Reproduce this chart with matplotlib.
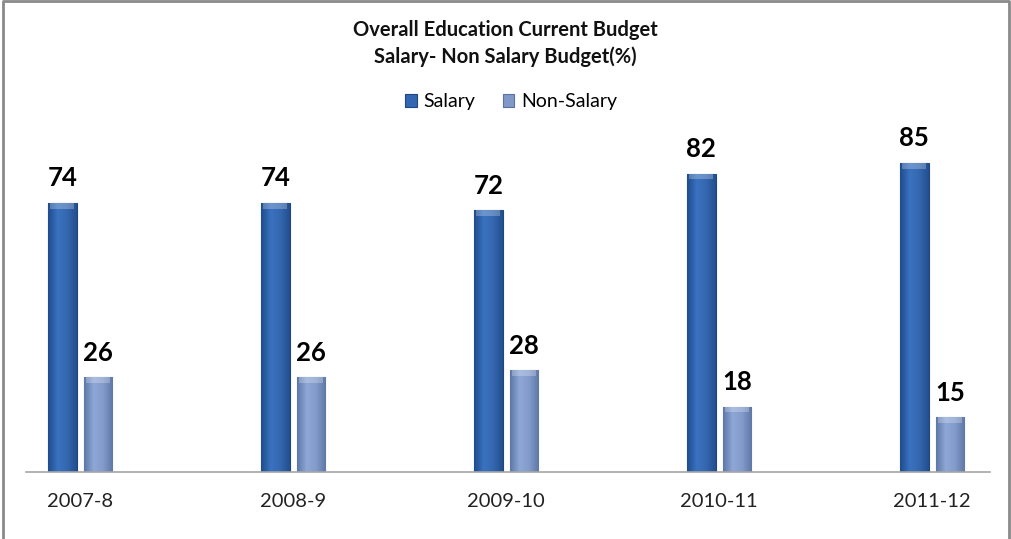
import numpy as np
import matplotlib.pyplot as plt
from matplotlib.colors import LinearSegmentedColormap
from matplotlib.patches import Rectangle
from matplotlib.lines import Line2D

years = ["2007-8", "2008-9", "2009-10", "2010-11", "2011-12"]
salary = [74, 74, 72, 82, 85]
non_salary = [26, 26, 28, 18, 15]

plt.rcParams['font.family'] = ['Lato', 'DejaVu Sans']

fig = plt.figure(figsize=(10.11, 5.39), dpi=100)
ax = fig.add_axes([26/1011, 67/539, 964/1011, 342/539])

x = np.arange(len(years))
w = 0.135
off = 0.084

sal_cmap = LinearSegmentedColormap.from_list("sal", ["#1f4c8c", "#3a72c0", "#3567b0", "#224f8e"])
non_cmap = LinearSegmentedColormap.from_list("non", ["#5d77a8", "#8ea7d6", "#829bcb", "#5f78a6"])
grad = np.linspace(0, 1, 64).reshape(1, -1)

b1 = ax.bar(x - off, salary, w, color="#3366b0", edgecolor="#1d477f", linewidth=0.8, label="Salary")
b2 = ax.bar(x + off, non_salary, w, color="#8099c8", edgecolor="#5a72a0", linewidth=0.8, label="Non-Salary")

# gradient fill inside each bar
for bars, cmap in ((b1, sal_cmap), (b2, non_cmap)):
    for r in bars:
        x0, y0 = r.get_x(), r.get_y()
        bw, bh = r.get_width(), r.get_height()
        im = ax.imshow(grad, cmap=cmap, aspect="auto", extent=(x0, x0 + bw, y0, y0 + bh), zorder=2)
        im.set_clip_path(r)
        ax.add_patch(Rectangle((x0 + bw*0.08, y0 + bh - 1.6), bw*0.84, 1.6, color="white", alpha=0.25, lw=0, zorder=3))

for bars in (b1, b2):
    for r in bars:
        ax.annotate(f"{int(r.get_height())}", (r.get_x() + r.get_width()/2, r.get_height()),
                    xytext=(0, 9), textcoords="offset points", ha="center", va="bottom",
                    fontsize=18.5, fontweight="bold", color="black")

ax.set_xlim(-0.254, 4.272)
ax.set_ylim(0, 94)
ax.set_xticks(x)
ax.set_xticklabels(years, fontsize=14.5, color="#222222")
ax.tick_params(axis="x", length=0, pad=15)
ax.set_yticks([])
for s in ["top", "right", "left"]:
    ax.spines[s].set_visible(False)
ax.spines["bottom"].set_color("#a6a6a6")
ax.spines["bottom"].set_linewidth(1.2)

fig.text(0.5, 1 - 30/539, "Overall Education Current Budget", ha="center", va="center",
         fontsize=14.5, fontweight="bold", color="#111111")
fig.text(0.5, 1 - 57/539, "Salary- Non Salary Budget(%)", ha="center", va="center",
         fontsize=14.5, fontweight="bold", color="#111111")

fig.legend(handles=[b1, b2], labels=["Salary", "Non-Salary"], loc="center",
           bbox_to_anchor=(511/1011, 1 - 102/539), ncol=2, frameon=False, fontsize=14,
           handlelength=0.6, handleheight=0.6, columnspacing=1.4, handletextpad=0.35)

# outer frame (top, left, right)
fx = [2.5/1011, 2.5/1011, 1009/1011, 1009/1011]
fy = [0, 0.998, 0.998, 0]
fig.lines.append(Line2D(fx, fy, transform=fig.transFigure, color="#8a8a8a", linewidth=2))

fig.savefig("out.png", dpi=100)
